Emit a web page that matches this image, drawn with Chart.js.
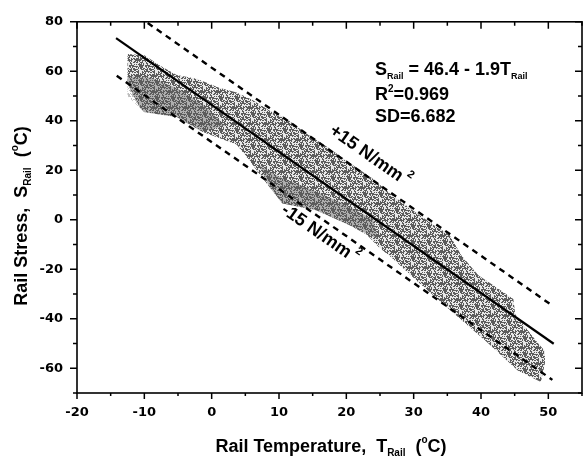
<!DOCTYPE html>
<html>
<head>
<meta charset="utf-8">
<script src="https://cdn.jsdelivr.net/npm/chart.js@4.4.1/dist/chart.umd.min.js"></script>
<style>
  html, body { margin: 0; padding: 0; background: #fff; }
  #c { display: block; }
</style>
</head>
<body>
<canvas id="c" width="584" height="459"></canvas>
<script>
// ---- data ----
const xTickValues = [-20, -10, 0, 10, 20, 30, 40, 50];
const yTickValues = [-60, -40, -20, 0, 20, 40, 60, 80];

// outline of the measured data cloud (upper edge left->right, lower edge right->left)
const cloudUpperX = [-12.5, -10, -7.5, -5.2, -2.2, 1, 3.7, 6, 9, 11, 14, 17.4, 21, 24, 26.3, 30, 33.7, 35.2, 37.1, 39.6, 42.1, 44.8, 45.1, 48.5, 49.5];
const cloudUpperY = [67, 66.5, 62, 58.5, 57, 53.5, 51.4, 48.5, 43.5, 41, 35, 29, 22, 16.5, 11, 3.5, -3.5, -5.5, -14.4, -22.4, -27, -32, -38.3, -50, -53];
const cloudLowerX = [49.5, 48.9, 45.5, 40.7, 35.6, 30.7, 27, 24.8, 23, 20.4, 15.5, 10.5, 8.55, 7.1, 5.6, 3.7, -1.4, -5.2, -10, -10.7, -12.5, -12.5, -12.5];
const cloudLowerY = [-58, -65.6, -61, -49, -37, -25.2, -16, -11, -6, -2.1, 3.8, 6.6, 13.3, 18.5, 24, 30.4, 35.6, 41.5, 43.5, 45.5, 55, 59, 63];

// denser (darker) parts of the cloud
const denseLobeX = [-12.5, -9, -5, -1, 2, -1.4, -5.2, -10, -12.5];
const denseLobeY = [58, 57.5, 53, 46, 38, 35.6, 41.5, 43.5, 50];
const denseStreakX = [7.1, 10, 15, 20, 24, 24.8, 20.4, 15.5, 10.5, 8.55];
const denseStreakY = [22, 17.5, 12, 6, 0, -8, -2.1, 3.8, 6.6, 13.3];

// regression line S = 46.4 - 1.9T and the +/-15 N/mm2 bounds (end points)
const fitX = [-14.2, 50.8];
const fitY = [73.4, -50.1];
const upperX = [-9.5, 50.6];
const upperY = [79.5, -34.7];
const lowerX = [-14.1, 50.6];
const lowerY = [58.2, -64.7];

const toPts = (xs, ys) => xs.map((x, i) => ({ x: x, y: ys[i] }));
const cloudPts = toPts(cloudUpperX, cloudUpperY).concat(toPts(cloudLowerX, cloudLowerY));

// stipple texture for the cloud (style only)
const STIPPLE = [
  "1001010011010010",
  "0110100100101101",
  "1000011010010010",
  "0101100101100101",
  "1010010010011010",
  "0100101101000101",
  "1011000100110010",
  "0100110010001101",
  "1001001101010010",
  "0110100010100101",
  "1000011001011010",
  "0011100110100100",
  "1100010001001011",
  "0010101110010100",
  "1101000100101001",
  "0010110011010110"
];
function bit(r, c) { return STIPPLE[r % 16][c % 16] === '1' ? 1 : 0; }
function makePattern(ctx, dark, light, invert) {
  const N = 48;
  const pc = document.createElement('canvas');
  pc.width = N; pc.height = N;
  const p = pc.getContext('2d');
  for (let r = 0; r < N; r++) for (let c = 0; c < N; c++) {
    let b = bit(r, c) ^ bit(r * 7 + c * 3, c * 5 + r * 11) ^ bit(r * 3 + 5, c * 2 + r);
    if (invert) b = 1 - b;
    const col = b ? dark : light;
    if (col) { p.fillStyle = col; p.fillRect(c, r, 1, 1); }
  }
  return ctx.createPattern(pc, 'repeat');
}
const ctx0 = document.getElementById('c').getContext('2d');
const cloudFill = makePattern(ctx0, '#5c5c5c', '#e8e8e8', false);
const denseFill = makePattern(ctx0, 'rgba(40,40,40,0.3)', null, true);

const FONT = "'Liberation Sans', Arial, sans-serif";
const TICKFONT = "'DejaVu Sans', sans-serif";

function drawRuns(ctx, runs, x, y, align) {
  let total = 0;
  runs.forEach(r => { ctx.font = 'bold ' + r.s + 'px ' + FONT; r.w = ctx.measureText(r.t).width + (r.gap || 0); total += r.w; });
  let cx = align === 'center' ? x - total / 2 : x;
  runs.forEach(r => {
    ctx.font = 'bold ' + r.s + 'px ' + FONT;
    ctx.fillText(r.t, cx + (r.gap || 0), y + (r.dy || 0));
    cx += r.w;
  });
}

const decor = {
  id: 'decor',
  afterDraw(chart) {
    const ctx = chart.ctx;
    const a = chart.chartArea;
    const xs = chart.scales.x, ys = chart.scales.y;
    ctx.save();
    ctx.strokeStyle = '#000';
    ctx.fillStyle = '#000';
    // frame
    ctx.lineWidth = 1.6;
    ctx.strokeRect(a.left, a.top, a.right - a.left, a.bottom - a.top);
    // tick marks
    ctx.lineWidth = 1.5;
    ctx.beginPath();
    for (let v = -20; v <= 55; v += 5) {
      const px = xs.getPixelForValue(v);
      const major = v % 10 === 0;
      ctx.moveTo(px, a.bottom); ctx.lineTo(px, a.bottom + (major ? 6 : 3));
      ctx.moveTo(px, a.top); ctx.lineTo(px, a.top + (major ? 7 : 4));
    }
    for (let v = -70; v <= 80; v += 10) {
      const py = ys.getPixelForValue(v);
      const major = v % 20 === 0;
      ctx.moveTo(a.left, py); ctx.lineTo(a.left - (major ? 7 : 4), py);
      ctx.moveTo(a.right, py); ctx.lineTo(a.right - (major ? 7 : 4), py);
    }
    ctx.stroke();

    ctx.textBaseline = 'alphabetic';
    ctx.textAlign = 'left';
    // x title
    drawRuns(ctx, [
      { t: 'Rail Temperature,  T', s: 18 },
      { t: 'Rail', s: 10, dy: 4 },
      { t: '  (', s: 18 },
      { t: 'o', s: 10, dy: -9 },
      { t: 'C)', s: 18 }
    ], 331, 452, 'center');
    // y title
    ctx.save();
    ctx.translate(27, 216);
    ctx.rotate(-Math.PI / 2);
    drawRuns(ctx, [
      { t: 'Rail Stress,  S', s: 18 },
      { t: 'Rail', s: 10, dy: 4 },
      { t: '  (', s: 18 },
      { t: 'o', s: 10, dy: -9 },
      { t: 'C)', s: 18 }
    ], 0, 0, 'center');
    ctx.restore();
    // equation block
    drawRuns(ctx, [
      { t: 'S', s: 18 },
      { t: 'Rail', s: 9, dy: 4 },
      { t: ' = 46.4 - 1.9T', s: 18 },
      { t: 'Rail', s: 9, dy: 4 }
    ], 375, 75, 'left');
    drawRuns(ctx, [
      { t: 'R', s: 18 },
      { t: '2', s: 10, dy: -8 },
      { t: '=0.969', s: 18 }
    ], 375, 100, 'left');
    drawRuns(ctx, [{ t: 'SD=6.682', s: 18 }], 375, 122, 'left');

    // rotated bound labels
    const ang = 35 * Math.PI / 180;
    ctx.textBaseline = 'middle';
    ctx.save();
    ctx.translate(370, 156);
    ctx.rotate(ang);
    drawRuns(ctx, [{ t: '+15 N/mm', s: 18 }, { t: '2', s: 11, dy: -8, gap: 3 }], 0, 0, 'center');
    ctx.restore();
    ctx.save();
    ctx.translate(320, 234);
    ctx.rotate(ang);
    drawRuns(ctx, [{ t: '-15 N/mm', s: 18 }, { t: '2', s: 11, dy: -8, gap: 3 }], 0, 0, 'center');
    ctx.restore();
    ctx.restore();
  }
};

new Chart(ctx0, {
  type: 'scatter',
  data: {
    datasets: [
      {
        data: cloudPts, showLine: true, fill: 'shape', borderWidth: 0,
        borderColor: 'rgba(0,0,0,0)', backgroundColor: cloudFill, pointRadius: 0, order: 10, tension: 0
      },
      {
        data: toPts(denseLobeX, denseLobeY), showLine: true, fill: 'shape', borderWidth: 0,
        borderColor: 'rgba(0,0,0,0)', backgroundColor: denseFill, pointRadius: 0, order: 9, tension: 0
      },
      {
        data: toPts(denseStreakX, denseStreakY), showLine: true, fill: 'shape', borderWidth: 0,
        borderColor: 'rgba(0,0,0,0)', backgroundColor: denseFill, pointRadius: 0, order: 8, tension: 0
      },
      {
        data: toPts(fitX, fitY), showLine: true, borderColor: '#000', borderWidth: 2.2,
        pointRadius: 0, order: 1
      },
      {
        data: toPts(upperX, upperY), showLine: true, borderColor: '#000', borderWidth: 2.4,
        borderDash: [6, 5], pointRadius: 0, order: 2
      },
      {
        data: toPts(lowerX, lowerY), showLine: true, borderColor: '#000', borderWidth: 2.4,
        borderDash: [6, 5], pointRadius: 0, order: 3
      }
    ]
  },
  options: {
    responsive: false,
    animation: false,
    layout: { padding: { left: 0, top: 15, right: 2, bottom: 0 } },
    plugins: { legend: { display: false }, tooltip: { enabled: false } },
    scales: {
      x: {
        type: 'linear', min: -20, max: 55,
        grid: { display: false, drawTicks: false },
        border: { display: false },
        ticks: { color: '#000', padding: 12, font: { family: TICKFONT, size: 13, weight: 'bold' } },
        afterBuildTicks: s => { s.ticks = xTickValues.map(v => ({ value: v })); },
        afterFit: s => { s.height = 66; }
      },
      y: {
        type: 'linear', min: -70, max: 80,
        grid: { display: false, drawTicks: false },
        border: { display: false },
        ticks: { color: '#000', padding: 14, font: { family: TICKFONT, size: 13, weight: 'bold' } },
        afterBuildTicks: s => { s.ticks = yTickValues.map(v => ({ value: v })); },
        afterFit: s => { s.width = 77; }
      }
    }
  },
  plugins: [decor]
});
</script>
</body>
</html>
